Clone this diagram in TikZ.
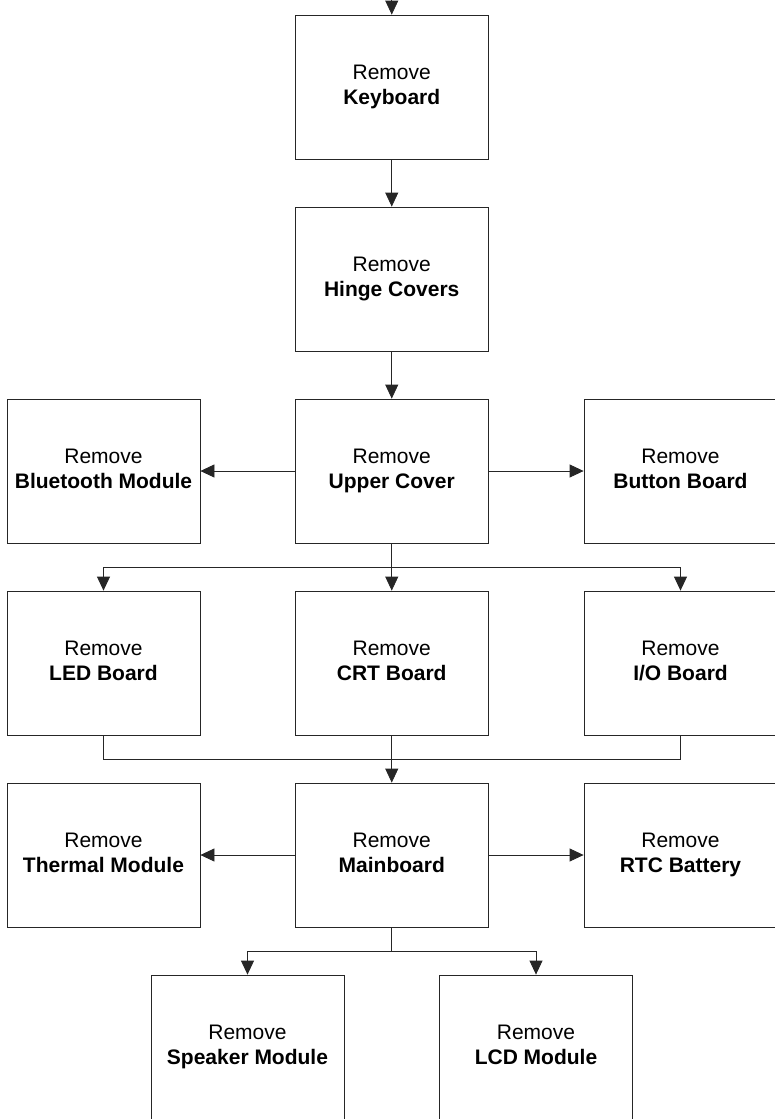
\documentclass[tikz,border=0pt]{standalone}
\usepackage{fontspec}
\setmainfont{Liberation Sans}
\usetikzlibrary{arrows.meta}
\newcommand{\bxs}{\rule[-5pt]{0pt}{20pt}}
\newcommand{\rmv}[1]{\bxs Remove\\\bxs\textbf{#1}}
\begin{document}
\begin{tikzpicture}[x=1pt,y=-1pt,
  box/.style={draw=black!85, line width=0.8pt, minimum width=193pt, minimum height=144pt,
    align=center, inner sep=0pt, font=\fontsize{21}{25}\selectfont},
  conn/.style={draw=black!85, line width=0.8pt},
  arr/.style={conn, -{Triangle[length=14pt,width=13pt]}}]
\useasboundingbox (0,0) rectangle (775,1119);
\node[box] (kb)  at (391.75,87)  {\rmv{Keyboard}};
\node[box] (hc)  at (391.75,279) {\rmv{Hinge Covers}};
\node[box] (uc)  at (391.75,471) {\rmv{Upper Cover}};
\node[box] (bt)  at (103.5,471)  {\rmv{Bluetooth Module}};
\node[box] (bb)  at (680.5,471)  {\rmv{Button Board}};
\node[box] (led) at (103.5,663)  {\rmv{LED Board}};
\node[box] (crt) at (391.75,663) {\rmv{CRT Board}};
\node[box] (io)  at (680.5,663)  {\rmv{I/O Board}};
\node[box] (th)  at (103.5,855)  {\rmv{Thermal Module}};
\node[box] (mb)  at (391.75,855) {\rmv{Mainboard}};
\node[box] (rtc) at (680.5,855)  {\rmv{RTC Battery}};
\node[box] (sp)  at (247.5,1047) {\rmv{Speaker Module}};
\node[box] (lcd) at (536,1047)   {\rmv{LCD Module}};
\coordinate (top) at (391.75,-5);
\coordinate (s1) at (391.75,567);
\coordinate (j) at (391.75,759);
\coordinate (k) at (391.75,951.5);
\draw[arr] (top) -- (kb);
\draw[arr] (kb) -- (hc);
\draw[arr] (hc) -- (uc);
\draw[arr] (uc) -- (bt);
\draw[arr] (uc) -- (bb);
\draw[conn] (uc.south) -- (s1);
\draw[arr] (s1) -| (led);
\draw[arr] (s1) -- (crt);
\draw[arr] (s1) -| (io);
\draw[conn] (led.south) |- (j) -| (io.south);
\draw[conn] (crt.south) -- (j);
\draw[arr] (j) -- (mb);
\draw[arr] (mb) -- (th);
\draw[arr] (mb) -- (rtc);
\draw[conn] (mb.south) -- (k);
\draw[arr] (k) -| (sp);
\draw[arr] (k) -| (lcd);
\end{tikzpicture}
\end{document}
